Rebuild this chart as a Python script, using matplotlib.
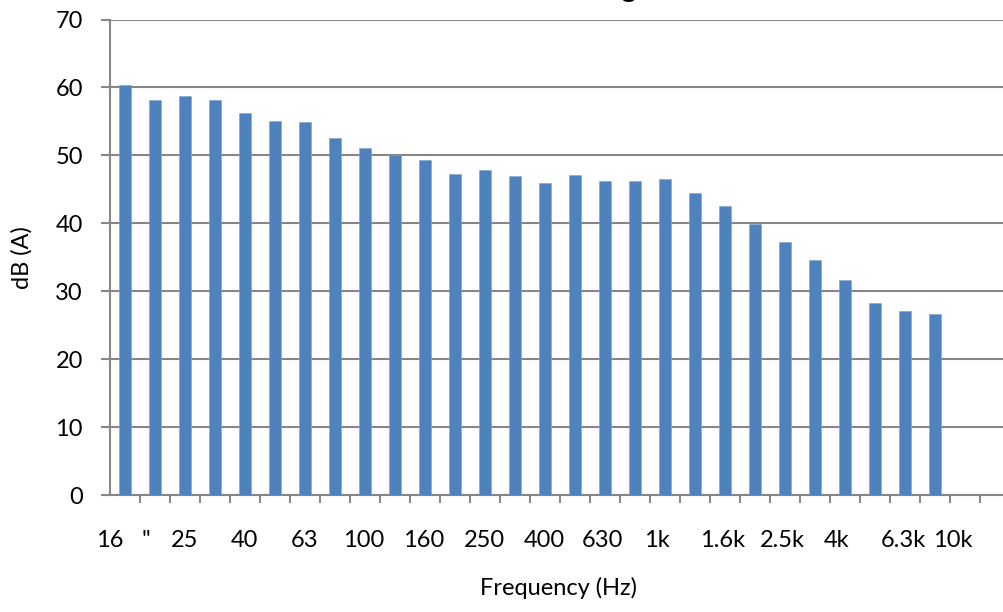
import matplotlib
matplotlib.use("Agg")
import matplotlib.pyplot as plt
from matplotlib.ticker import FixedLocator, NullFormatter

plt.rcParams['font.family'] = ['Lato', 'DejaVu Sans']

# Data: 1/3-octave bands (16 Hz .. 12.5 kHz); last bands have no value
bands = ["16", "20", "25", "31.5", "40", "50", "63", "80", "100", "125",
         "160", "200", "250", "315", "400", "500", "630", "800", "1k", "1.25k",
         "1.6k", "2k", "2.5k", "3.15k", "4k", "5k", "6.3k", "8k", "10k", "12.5k"]
levels = [60.3, 58.2, 58.8, 58.1, 56.2, 55.1, 54.9, 52.5, 51.1, 50.0,
          49.3, 47.3, 47.9, 46.9, 46.0, 47.1, 46.2, 46.2, 46.5, 44.4,
          42.5, 39.9, 37.2, 34.6, 31.7, 28.3, 27.1, 26.6]
tick_labels = ["16", '"', "25", "40", "63", "100", "160", "250", "400", "630",
               "1k", "1.6k", "2.5k", "4k", "6.3k", "10k"]
yticks = [0, 10, 20, 30, 40, 50, 60, 70]

# label placement (category units), mimicking the reference layout
label_pos = [-0.5, 0.7, 1.97, 3.97, 5.97, 7.97, 9.97, 11.97, 13.97, 15.93,
             17.73, 19.93, 21.9, 23.73, 25.93, 27.6]

W, H = 1004, 612
fig = plt.figure(figsize=(W / 100, H / 100), dpi=100)
left, right_px = 110, 1010
top_px, bottom_px = 19.5, 495
ax = fig.add_axes([left / W, (H - bottom_px) / H, (right_px - left) / W,
                   (bottom_px - top_px) / H])

grid_c = "#868686"
x = list(range(len(levels)))
ax.bar(x, levels, width=0.4, color="#4F81BD", edgecolor="#7FA3D3",
       linewidth=0.4, zorder=3)

ax.set_xlim(-0.5, len(bands) - 0.5)
ax.set_ylim(0, 70)
ax.set_yticks(yticks)
ax.yaxis.grid(True, color=grid_c, linewidth=1.5, zorder=0)
ax.set_axisbelow(True)

for s in ["top", "right"]:
    ax.spines[s].set_visible(False)
for s in ["left", "bottom"]:
    ax.spines[s].set_color(grid_c)
    ax.spines[s].set_linewidth(1.5)

ax.tick_params(axis="y", length=6.5, width=1.5, color=grid_c, pad=13,
               labelsize=17, labelcolor="black")
ax.set_xticks(label_pos)
ax.set_xticklabels(tick_labels)
ax.tick_params(axis="x", which="major", length=0, pad=25, labelsize=17)
ax.xaxis.set_minor_locator(FixedLocator([i - 0.5 for i in range(len(bands) + 1)]))
ax.xaxis.set_minor_formatter(NullFormatter())
ax.tick_params(axis="x", which="minor", length=5.5, width=1.5, color=grid_c,
               direction="out")

fig.text(22 / W, 1 - 258 / H, "dB (A)", rotation=90, ha="center", va="center",
         fontsize=17)
fig.text(559 / W, 1 - 588 / H, "Frequency (Hz)", ha="center", va="center",
         fontsize=17)
# fragment of the title cut off at the top edge (only the descender shows)
fig.text(621 / W, 1 + 3.5 / H, "g", ha="left", va="baseline", fontsize=22)

fig.savefig("out.png", dpi=100)
